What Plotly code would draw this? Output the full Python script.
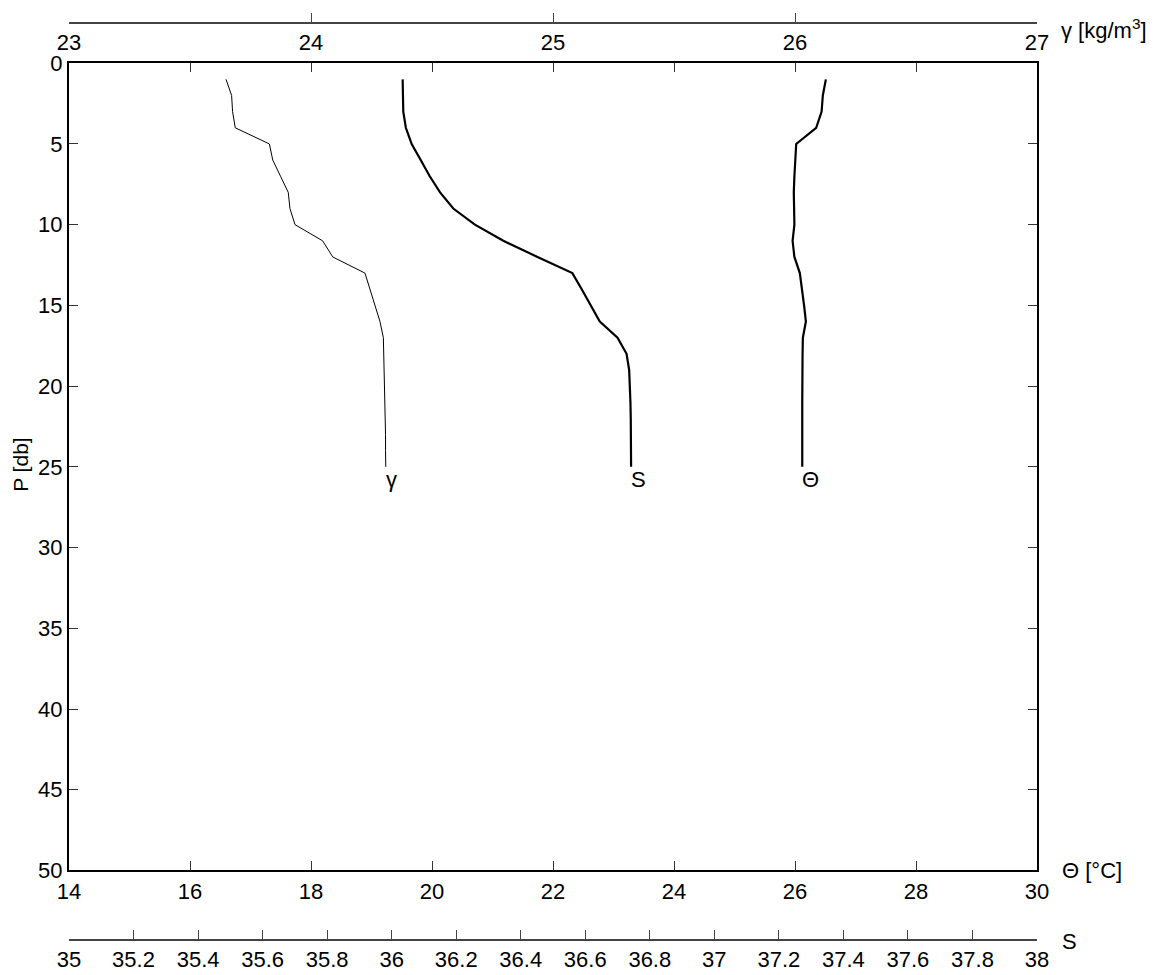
import plotly.graph_objects as go

# ---------------- data ----------------
pressure = list(range(1, 26))  # P [db]
gamma = [23.649, 23.672, 23.676, 23.687, 23.828, 23.842, 23.874, 23.906, 23.913, 23.934,
         24.048, 24.090, 24.223, 24.244, 24.265, 24.285, 24.299, 24.301, 24.303, 24.305,
         24.306, 24.307, 24.308, 24.308, 24.309]
salinity = [36.034, 36.035, 36.036, 36.044, 36.062, 36.090, 36.118, 36.150, 36.191, 36.258,
            36.346, 36.452, 36.560, 36.589, 36.617, 36.645, 36.700, 36.728, 36.736, 36.739,
            36.740, 36.741, 36.741, 36.742, 36.742]
theta = [26.51, 26.46, 26.44, 26.35, 26.02, 26.00, 25.99, 25.98, 25.98, 25.99,
         25.96, 25.99, 26.08, 26.12, 26.15, 26.18, 26.13, 26.125, 26.12, 26.12,
         26.12, 26.12, 26.12, 26.12, 26.12]

theta_ticks = [14, 16, 18, 20, 22, 24, 26, 28, 30]
gamma_ticks = [23, 24, 25, 26, 27]
s_ticks = [35, 35.2, 35.4, 35.6, 35.8, 36, 36.2, 36.4, 36.6, 36.8, 37, 37.2, 37.4, 37.6, 37.8, 38]
s_ticktext = ["35", "35.2", "35.4", "35.6", "35.8", "36", "36.2", "36.4", "36.6", "36.8",
              "37", "37.2", "37.4", "37.6", "37.8", "38"]
p_ticks = [0, 5, 10, 15, 20, 25, 30, 35, 40, 45, 50]

FONT = "Liberation Sans, Arial, sans-serif"
FS = 22

fig = go.Figure()
fig.add_trace(go.Scatter(x=gamma, y=pressure, xaxis="x2", yaxis="y", mode="lines",
                         line=dict(color="black", width=1), showlegend=False))
fig.add_trace(go.Scatter(x=salinity, y=pressure, xaxis="x3", yaxis="y", mode="lines",
                         line=dict(color="black", width=2.2), showlegend=False))
fig.add_trace(go.Scatter(x=theta, y=pressure, xaxis="x", yaxis="y", mode="lines",
                         line=dict(color="black", width=2.2), showlegend=False))

# page-pixel layout (the page body adds an 8px offset)
OFF = 8
W, H = 1156 - OFF, 975 - OFF
PLOT_L, PLOT_R, PLOT_T, PLOT_B = 69, 1037, 63.5, 870.5
TOPLINE, BOTLINE = 23.3, 940
ml = PLOT_L - OFF
mr = (W + OFF) - PLOT_R
mt = TOPLINE - OFF
mb = (H + OFF) - BOTLINE
ph = H - mt - mb
pw = W - ml - mr
ydom = [(BOTLINE - PLOT_B) / ph, 1 - (PLOT_T - TOPLINE) / ph]

def px_x(p):
    return (p - PLOT_L) / pw

def px_y(p):
    return 1 - (p - TOPLINE) / ph

fig.update_layout(
    width=W, height=H,
    margin=dict(l=ml, r=mr, t=mt, b=mb, pad=0, autoexpand=False),
    paper_bgcolor="white", plot_bgcolor="white",
    font=dict(family=FONT, size=FS, color="black"),
    xaxis=dict(range=[14, 30], tickvals=theta_ticks, ticks="inside", ticklen=9,
               color="black", tickcolor="#333", showline=True, linecolor="black",
               linewidth=2, mirror="ticks", showgrid=False, zeroline=False,
               domain=[0, 1], anchor="y", tickfont=dict(size=FS, color="black")),
    xaxis2=dict(range=[23, 27], tickvals=gamma_ticks, overlaying="x", side="bottom",
                anchor="free", position=1, ticks="inside", ticklen=9, color="black",
                tickcolor="#444", showline=True, linecolor="#444", linewidth=1.5,
                showgrid=False, zeroline=False, tickfont=dict(size=FS, color="black")),
    xaxis3=dict(range=[35, 38], tickvals=s_ticks, ticktext=s_ticktext, overlaying="x",
                side="bottom", anchor="free", position=0, ticks="inside", ticklen=9,
                color="black", tickcolor="#444", showline=True, linecolor="#444",
                linewidth=1.5, showgrid=False, zeroline=False,
                tickfont=dict(size=FS, color="black")),
    yaxis=dict(range=[50, 0], tickvals=p_ticks, ticks="inside", ticklen=9, color="black",
               tickcolor="#333", showline=True, linecolor="black", linewidth=2,
               mirror="ticks", showgrid=False, zeroline=False, domain=ydom, anchor="x",
               tickfont=dict(size=FS, color="black")),
)

annotations = [
    dict(text="P [db]", textangle=-90, xref="paper", yref="paper",
         x=px_x(21), y=px_y(465), showarrow=False, xanchor="center", yanchor="middle",
         font=dict(size=21)),
    dict(text="Θ [°C]", xref="paper", yref="paper", x=px_x(1060), y=px_y(871),
         showarrow=False, xanchor="left", yanchor="middle"),
    dict(text="S", xref="paper", yref="paper", x=px_x(1060), y=px_y(941),
         showarrow=False, xanchor="left", yanchor="middle"),
    dict(text="γ [kg/m<sup>3</sup>]", xref="paper", yref="paper", x=px_x(1059), y=px_y(29),
         showarrow=False, xanchor="left", yanchor="middle"),
    dict(text="γ", xref="x2", yref="y", x=gamma[-1], y=pressure[-1], showarrow=False,
         xanchor="left", yanchor="top", xshift=-2, yshift=2),
    dict(text="S", xref="x3", yref="y", x=salinity[-1], y=pressure[-1], showarrow=False,
         xanchor="left", yanchor="top", xshift=-2, yshift=2),
    dict(text="Θ", xref="x", yref="y", x=theta[-1], y=pressure[-1], showarrow=False,
         xanchor="left", yanchor="top", xshift=-2, yshift=2),
]
fig.update_layout(annotations=annotations)

fig.write_html("out.html")
